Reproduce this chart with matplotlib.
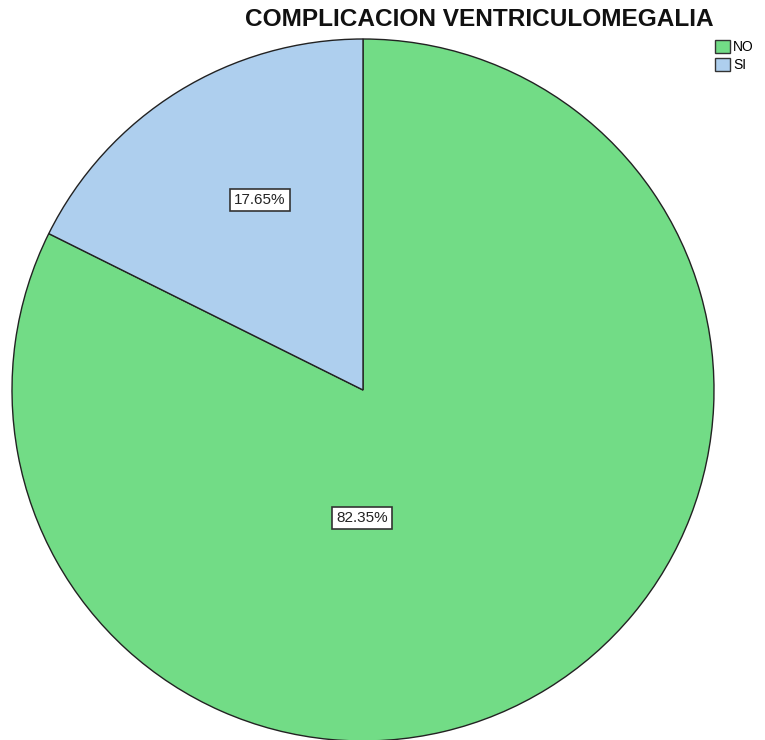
import matplotlib
matplotlib.use("Agg")
import matplotlib.pyplot as plt
from matplotlib.patches import Patch

categories = ["NO", "SI"]
percentages = [82.35, 17.65]
colors = ["#72DC86", "#AECFEE"]
title = "COMPLICACION VENTRICULOMEGALIA"

W, H = 765, 740
cx, cy, R = 363, 390, 351

plt.rcParams['font.family'] = ['Liberation Sans', 'DejaVu Sans']
fig = plt.figure(figsize=(W / 100, H / 100), dpi=100)
ax = fig.add_axes([0, 0, 1, 1])

wedges, _ = ax.pie(percentages, colors=colors, startangle=90, counterclock=False,
                   radius=1.0, center=(0, 0), frame=True,
                   wedgeprops=dict(edgecolor='#222222', linewidth=1.0))
ax.set_xlim(-cx / R, (W - cx) / R)
ax.set_ylim(-(H - cy) / R, cy / R)
ax.set_aspect('auto')
ax.axis('off')

label_px = [(362, 518), (260, 200)]
for (px, py), p in zip(label_px, percentages):
    ax.text((px - cx) / R, (cy - py) / R, f"{p:.2f}%", ha='center', va='center',
            fontsize=11, color='#222222',
            bbox=dict(boxstyle='square,pad=0.25', facecolor='white',
                      edgecolor='#333333', linewidth=1.2))

fig.text(479 / W, 1 - 19 / H, title, ha='center', va='center',
         fontsize=17.6, fontweight='bold', color='#111111')

handles = [Patch(facecolor=c, edgecolor='#333333', linewidth=1.0) for c in colors]
leg = fig.legend(handles, categories, loc='upper left',
                 bbox_to_anchor=(712 / W, 1 - 37 / H), frameon=False,
                 fontsize=10, handlelength=1.1, handleheight=1.1,
                 handletextpad=0.2, labelspacing=0.25, borderpad=0.2,
                 borderaxespad=0)

fig.savefig("out.png", dpi=100)
